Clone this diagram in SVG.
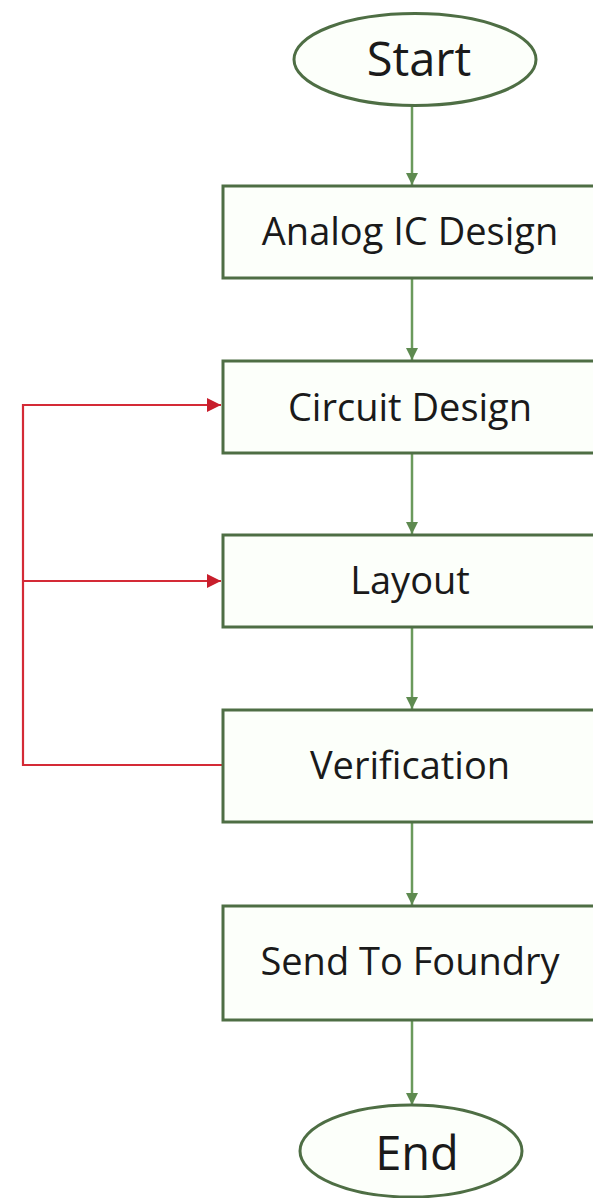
<svg xmlns="http://www.w3.org/2000/svg" width="593" height="1198" viewBox="0 0 593 1198">
  <style>
    .node { fill: #fcfffa; stroke: #4e6e44; stroke-width: 3; }
    .label { font-family: "Open Sans", "DejaVu Sans", sans-serif; font-size: 38px; fill: #1a1a1a; text-anchor: middle; }
    .term { font-size: 47px; }
    .flow { fill: none; stroke: #6b9a5c; stroke-width: 2.5; }
    .loop { fill: none; stroke: #d42a36; stroke-width: 2.2; }
  </style>
  <defs>
    <marker id="arrowGreen" viewBox="0 0 10 10" refX="10" refY="5" markerWidth="5" markerHeight="5.5" markerUnits="strokeWidth" orient="auto">
      <path d="M0,0 L10,5 L0,10 Z" fill="#5e8a50"/>
    </marker>
    <marker id="arrowRed" viewBox="0 0 10 10" refX="10" refY="5" markerWidth="6.5" markerHeight="6.5" markerUnits="strokeWidth" orient="auto">
      <path d="M0,0 L10,5 L0,10 Z" fill="#c81e2c"/>
    </marker>
  </defs>

  <rect width="593" height="1198" fill="#ffffff"/>

  <g id="connectors">
    <line class="flow" x1="412" y1="106" x2="412" y2="185" marker-end="url(#arrowGreen)"/>
    <line class="flow" x1="412" y1="279" x2="412" y2="360" marker-end="url(#arrowGreen)"/>
    <line class="flow" x1="412" y1="454" x2="412" y2="534" marker-end="url(#arrowGreen)"/>
    <line class="flow" x1="412" y1="628" x2="412" y2="709" marker-end="url(#arrowGreen)"/>
    <line class="flow" x1="412" y1="823" x2="412" y2="905" marker-end="url(#arrowGreen)"/>
    <line class="flow" x1="412" y1="1021" x2="412" y2="1105" marker-end="url(#arrowGreen)"/>
    <path class="loop" d="M222,765 H23 V405 H221" marker-end="url(#arrowRed)"/>
    <path class="loop" d="M23,581 H221" marker-end="url(#arrowRed)"/>
  </g>

  <g id="start">
    <ellipse class="node" cx="415" cy="59.5" rx="121" ry="46"/>
    <text class="label term" x="419" y="76">Start</text>
  </g>

  <g id="analog-ic-design">
    <rect class="node" x="223" y="186" width="376" height="92"/>
    <text class="label" x="410" y="245">Analog IC Design</text>
  </g>

  <g id="circuit-design">
    <rect class="node" x="223" y="361" width="376" height="92"/>
    <text class="label" x="410" y="421">Circuit Design</text>
  </g>

  <g id="layout">
    <rect class="node" x="223" y="535" width="376" height="92"/>
    <text class="label" x="410" y="594">Layout</text>
  </g>

  <g id="verification">
    <rect class="node" x="223" y="710" width="376" height="112"/>
    <text class="label" x="410" y="779">Verification</text>
  </g>

  <g id="send-to-foundry">
    <rect class="node" x="223" y="906" width="376" height="114"/>
    <text class="label" x="410" y="975">Send To Foundry</text>
  </g>

  <g id="end">
    <ellipse class="node" cx="411" cy="1151" rx="111" ry="46"/>
    <text class="label term" x="417" y="1170">End</text>
  </g>
</svg>
